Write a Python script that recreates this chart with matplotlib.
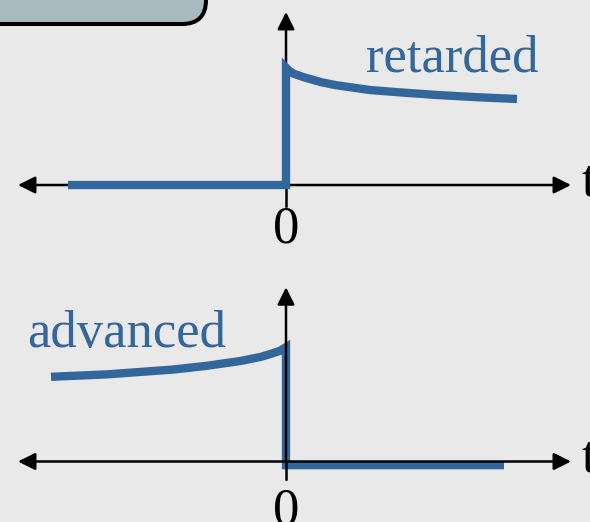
import matplotlib
matplotlib.use("Agg")
import matplotlib.pyplot as plt
from matplotlib.patches import FancyBboxPatch

# ---- data (t in arbitrary units, amplitude normalised) ----
ret_t = [-4.36, 0.0, 0.0, 0.06, 0.15, 0.34, 0.7, 1.0, 1.68, 2.3, 3.02, 3.8, 4.62]
ret_y = [0.0, 0.0, 0.97, 0.945, 0.92, 0.893, 0.85, 0.825, 0.785, 0.765, 0.744, 0.726, 0.711]

adv_t = [-4.7, -3.58, -2.26, -1.6, -0.92, -0.5, -0.26, -0.12, 0.0, 0.0, 4.36]
adv_y = [0.70, 0.72, 0.76, 0.79, 0.83, 0.865, 0.895, 0.915, 0.945, -0.03, -0.03]

labels = ["retarded", "advanced"]
axis_label = "t"
tick_label = "0"

BG = "#e9e9e9"
BLUE = "#33669a"
FONT = "Liberation Serif"
FS = 38

fig = plt.figure(figsize=(5.9, 5.22), dpi=100, facecolor=BG)

# header box (partly outside the figure)
box = FancyBboxPatch((-40, 498), 246, 80, boxstyle="round,pad=0,rounding_size=24",
                     transform=None, facecolor="#a8b9bf", edgecolor="black",
                     linewidth=2.9, zorder=5)
fig.patches.append(box)

ax1 = fig.add_axes([0, 0.5, 1, 0.5])
ax2 = fig.add_axes([0, 0.0, 1, 0.5])

XL = (-5.72, 6.08)
ax1.set_xlim(*XL); ax1.set_ylim(-0.628, 1.529)
ax2.set_xlim(*XL); ax2.set_ylim(-0.50, 1.657)

for ax in (ax1, ax2):
    ax.set_axis_off()
    ax.patch.set_alpha(0)

def draw_axes(ax, vtop, tick_low, line_z):
    ax.annotate("", xy=(5.7, 0), xytext=(-5.36, 0),
                arrowprops=dict(arrowstyle="<|-|>", color="black", lw=1.8,
                                mutation_scale=26, shrinkA=0, shrinkB=0),
                zorder=line_z)
    ax.annotate("", xy=(0, vtop), xytext=(0, 0),
                arrowprops=dict(arrowstyle="-|>", color="black", lw=1.8,
                                mutation_scale=26, shrinkA=0, shrinkB=0),
                zorder=line_z)
    ax.plot([0, 0], [0, tick_low], color="black", lw=1.8, zorder=line_z)

draw_axes(ax1, 1.43, -0.17, 2)
draw_axes(ax2, 1.44, -0.145, 4)

ax1.plot(ret_t, ret_y, color=BLUE, lw=6.0, solid_joinstyle="miter",
         solid_capstyle="butt", zorder=3)
ax2.plot(adv_t, adv_y, color=BLUE, lw=6.0, solid_joinstyle="miter",
         solid_capstyle="butt", zorder=3)

ax1.text(1.6, 0.934, labels[0], color=BLUE, fontsize=FS, family=FONT,
         ha="left", va="baseline")
ax2.text(-5.18, 0.946, labels[1], color=BLUE, fontsize=FS, family=FONT,
         ha="left", va="baseline")

ax1.text(0, -0.479, tick_label, color="black", fontsize=FS, family=FONT,
         ha="center", va="baseline")
ax2.text(0, -0.517, tick_label, color="black", fontsize=FS, family=FONT,
         ha="center", va="baseline", clip_on=False)

ax1.text(5.92, -0.09, axis_label, color="black", fontsize=FS, family=FONT,
         ha="left", va="baseline")
ax2.text(5.92, -0.08, axis_label, color="black", fontsize=FS, family=FONT,
         ha="left", va="baseline")

fig.savefig("out.png", dpi=100, facecolor=BG)
